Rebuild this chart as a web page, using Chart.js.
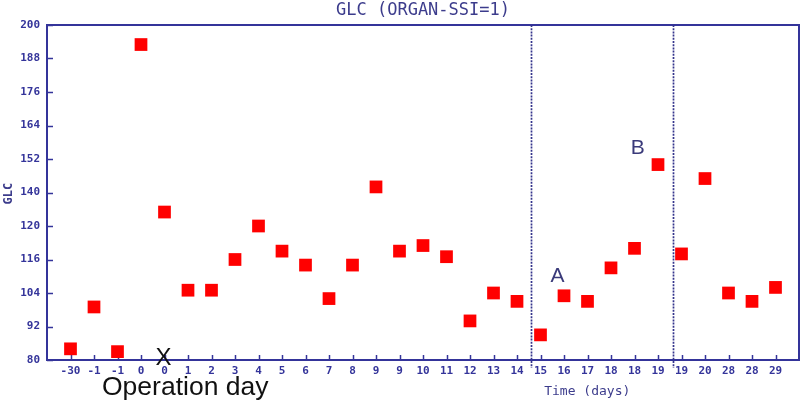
<!DOCTYPE html>
<html>
<head>
<meta charset="utf-8">
<script src="https://cdn.jsdelivr.net/npm/chart.js@4.4.1/dist/chart.umd.min.js"></script>
<style>
  html, body { margin: 0; padding: 0; background: #ffffff; }
  #wrap { width: 800px; height: 404px; position: relative; }
</style>
</head>
<body>
<div id="wrap"><canvas id="c" width="800" height="404"></canvas></div>
<script>
// ---- data ----
const xLabels = ["-30","-1","-1","0","0","1","2","3","4","5","6","7","8","9","9","10","11","12","13","14","15","16","17","18","18","19","19","20","28","28","29"];
const glcValues = [84,99,83,193,133,105,105,116,128,119,114,102,114,142,119,121,117,94,104,101,89,103,101,113,120,150,118,145,104,101,106];
const yTickLabels = ["80","92","104","116","120","140","152","164","176","188","200"];
const dividerPositions = [19.6, 25.65];
const chartTitle = "GLC (ORGAN-SSI=1)";
const xTitle = "Time (days)";
const yTitle = "GLC";

const NAVY = "#34349a";
const TEXT_NAVY = "#3c3c8c";

const points = glcValues.map((v, i) => ({ x: i, y: v }));

const decor = {
  id: 'decor',
  beforeDatasetsDraw(chart) {
    const ctx = chart.ctx;
    const a = chart.chartArea;
    const xs = chart.scales.x, ys = chart.scales.y;
    ctx.save();
    // frame
    ctx.strokeStyle = NAVY;
    ctx.lineWidth = 2;
    ctx.strokeRect(a.left, a.top, a.right - a.left, a.bottom - a.top);
    // ticks inside
    ctx.lineWidth = 1.5;
    ctx.beginPath();
    for (let i = 0; i < xLabels.length; i++) {
      const px = Math.round(xs.getPixelForValue(i)) + 0.5;
      ctx.moveTo(px, a.bottom);
      ctx.lineTo(px, a.bottom - 5);
    }
    for (let v = 80; v <= 200; v += 12) {
      const py = Math.round(ys.getPixelForValue(v)) + 0.5;
      ctx.moveTo(a.left, py);
      ctx.lineTo(a.left + 6, py);
    }
    ctx.stroke();
    // dividers
    ctx.strokeStyle = "#34348c";
    ctx.lineWidth = 1.7;
    ctx.setLineDash([2, 1.2]);
    dividerPositions.forEach(d => {
      const px = Math.round(xs.getPixelForValue(d)) + 0.5;
      ctx.beginPath();
      ctx.moveTo(px, a.top);
      ctx.lineTo(px, a.bottom + 8);
      ctx.stroke();
    });
    ctx.restore();
  },
  afterDraw(chart) {
    const ctx = chart.ctx;
    const a = chart.chartArea;
    const xs = chart.scales.x, ys = chart.scales.y;
    ctx.save();
    // title
    ctx.fillStyle = TEXT_NAVY;
    ctx.textAlign = 'center';
    ctx.textBaseline = 'middle';
    ctx.font = '17px "DejaVu Sans Mono"';
    ctx.fillText(chartTitle, (a.left + a.right) / 2, 11);
    // x title
    ctx.font = '13px "DejaVu Sans Mono"';
    ctx.fillText(xTitle, xs.getPixelForValue(21.99), 392);
    // y title
    ctx.save();
    ctx.translate(9, ys.getPixelForValue(139.6));
    ctx.rotate(-Math.PI / 2);
    ctx.font = 'bold 12px "DejaVu Sans Mono"';
    ctx.fillText(yTitle, 0, 0);
    ctx.restore();
    // annotations
    ctx.font = '21px "Liberation Sans"';
    ctx.fillStyle = "#3a3a7a";
    ctx.fillText("A", xs.getPixelForValue(20.72), ys.getPixelForValue(110));
    ctx.fillText("B", xs.getPixelForValue(24.14), ys.getPixelForValue(155.7));
    ctx.fillStyle = "#111111";
    ctx.font = '24px "Liberation Sans"';
    ctx.fillText("X", xs.getPixelForValue(3.96), ys.getPixelForValue(80.6));
    ctx.textAlign = 'left';
    ctx.font = '26.5px "Liberation Sans"';
    ctx.fillText("Operation day", 102, 388);
    ctx.restore();
  }
};

new Chart(document.getElementById('c'), {
  type: 'scatter',
  data: {
    datasets: [{
      data: points,
      pointStyle: 'rect',
      pointRadius: 9,
      pointHoverRadius: 9,
      backgroundColor: '#ff0000',
      borderWidth: 0
    }]
  },
  plugins: [decor],
  options: {
    responsive: false,
    animation: false,
    events: [],
    layout: { autoPadding: false, padding: { top: 25, right: 1, left: 0, bottom: 0 } },
    plugins: { legend: { display: false }, tooltip: { enabled: false }, title: { display: false } },
    scales: {
      x: {
        type: 'linear',
        min: -1, max: 31,
        afterFit(s) { s.height = 44; s.paddingLeft = 0; s.paddingRight = 0; },
        afterBuildTicks(s) {
          s.ticks = xLabels.map((_, i) => ({ value: i }));
        },
        grid: { display: false, drawTicks: false },
        border: { display: false },
        ticks: {
          autoSkip: false,
          maxRotation: 0,
          padding: 5,
          color: NAVY,
          font: { family: '"DejaVu Sans Mono"', size: 11, weight: 'bold' },
          callback(v) { return xLabels[v] !== undefined ? xLabels[v] : ''; }
        }
      },
      y: {
        type: 'linear',
        min: 80, max: 200,
        afterFit(s) { s.width = 47; s.paddingTop = 0; s.paddingBottom = 0; },
        afterBuildTicks(s) {
          s.ticks = yTickLabels.map((_, i) => ({ value: 80 + 12 * i }));
        },
        grid: { display: false, drawTicks: false },
        border: { display: false },
        ticks: {
          autoSkip: false,
          padding: 7,
          color: NAVY,
          font: { family: '"DejaVu Sans Mono"', size: 11, weight: 'bold' },
          callback(v) { return yTickLabels[Math.round((v - 80) / 12)]; }
        }
      }
    }
  }
});
</script>
</body>
</html>
